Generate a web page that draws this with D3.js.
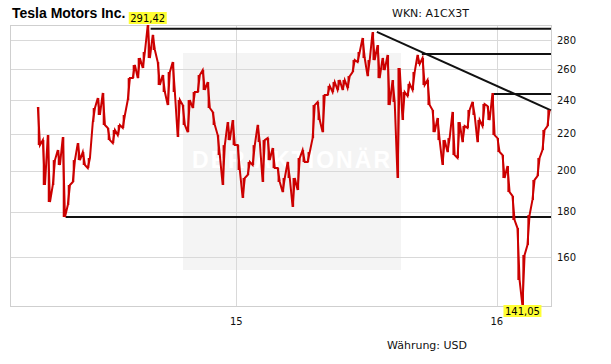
<!DOCTYPE html>
<html>
<head>
<meta charset="utf-8">
<script src="https://cdn.jsdelivr.net/npm/d3@7"></script>
<style>
  body { margin: 0; background: #fff; }
  svg { display: block; }
</style>
</head>
<body>
<svg id="chart"></svg>
<script>
// Tesla Motors Inc. - weekly high/low, log price axis, with drawn support/resistance lines

const width = 611, height = 364;
const plot = { left: 10, right: 551, top: 25, bottom: 306 };

const firstWeek = "2014-03-28";
const highs = [
  235.8, 216.5, 219.3, 205.6, 211.0, 218.2, 192.8, 205.6, 214.8, 209.9,
  206.7, 235.2, 241.3, 244.5, 223.4, 222.2, 225.1, 231.0, 254.1, 262.8,
  267.6, 271.8, 291.42, 284.0, 264.8, 256.1, 258.1, 264.8, 240.1, 237.0,
  240.1, 245.1, 256.1, 259.4, 251.5, 232.8, 219.3, 213.7, 226.8, 228.0,
  213.7, 196.3, 204.6, 213.7, 225.1, 216.5, 217.6, 212.1, 201.4, 196.3,
  204.6, 196.3, 206.7, 211.0, 209.9, 237.0, 238.9, 243.2, 249.0, 251.5,
  252.8, 252.8, 255.4, 266.2, 271.8, 281.8, 266.2, 286.2, 276.7, 267.6,
  269.7, 252.8, 260.8, 245.1, 250.3, 258.1, 269.7, 267.6, 252.8, 234.0,
  229.2, 216.5, 217.6, 232.8, 226.8, 224.5, 234.0, 238.9, 228.0, 237.6,
  236.4, 244.5, 217.6, 208.3, 202.5, 187.4, 172.5, 160.9, 178.4, 195.3,
  206.7, 222.2, 234.0
];
const lows = [
  213.7, 192.8, 184.5, 192.8, 203.0, 177.5, 183.1, 194.3, 205.6, 203.0,
  201.4, 226.8, 231.0, 225.1, 216.5, 214.8, 219.3, 223.4, 240.1, 254.1,
  254.1, 260.8, 267.6, 273.2, 249.6, 245.1, 237.0, 245.1, 218.2, 225.1,
  221.0, 235.2, 245.1, 246.4, 235.2, 225.1, 208.3, 192.8, 216.5, 213.7,
  200.4, 186.5, 197.8, 203.0, 215.4, 194.3, 205.6, 201.4, 194.3, 189.3,
  196.3, 182.2, 190.3, 204.6, 204.6, 217.6, 228.0, 221.0, 243.2, 245.1,
  246.4, 246.4, 247.7, 258.1, 264.8, 267.6, 255.4, 266.2, 254.1, 259.4,
  237.0, 238.9, 196.3, 228.0, 242.6, 246.4, 263.5, 249.6, 237.0, 221.0,
  216.5, 203.0, 209.9, 208.3, 206.7, 215.4, 223.4, 231.0, 215.4, 224.5,
  228.0, 219.3, 209.9, 196.3, 189.3, 176.1, 150.8, 141.05, 165.1, 185.5,
  197.3, 211.0, 224.5
];

// horizontal lines drawn on the chart (start date, level), all run to the right edge
const levelStarts = ["2014-09-03", "2015-09-18", "2015-12-28", "2014-05-07"];
const levelValues = [288.7, 270.4, 243.8, 177.5];
// falling trend line
const trendDates = ["2015-07-17", "2016-03-17"];
const trendValues = [286.3, 233.8];

const yTicks = [160, 180, 200, 220, 240, 260, 280];
const xTickDates = ["2015-01-01", "2016-01-01"];
const xTickLabels = ["15", "16"];

const parse = d3.timeParse("%Y-%m-%d");
const fmt = d3.format(".2f");
const deNum = v => fmt(v).replace(".", ",");

const svg = d3.select("#chart").attr("width", width).attr("height", height);
svg.append("rect").attr("width", width).attr("height", height).attr("fill", "#fff");

const x = d3.scaleTime()
  .domain([parse("2014-02-18"), parse("2016-03-17")])
  .range([plot.left, plot.right]);
const y = d3.scaleLog()
  .domain([141.05, 291.42])
  .range([plot.bottom, plot.top]);

// watermark
svg.append("rect")
  .attr("x", 183).attr("y", 53).attr("width", 218).attr("height", 217)
  .attr("fill", "#f4f4f4");
svg.append("text")
  .attr("x", 192).attr("y", 168)
  .attr("textLength", 198).attr("lengthAdjust", "spacing")
  .attr("font-family", "Liberation Sans, Arial, sans-serif")
  .attr("font-weight", "bold").attr("font-size", 23)
  .attr("fill", "#fff")
  .text("DER AKTIONÄR");

// grid
const grid = svg.append("g").attr("stroke", "#d9d9d9").attr("stroke-width", 1);
grid.selectAll("line.h").data(yTicks).enter().append("line")
  .attr("class", "h")
  .attr("x1", plot.left).attr("x2", plot.right)
  .attr("y1", d => Math.round(y(d)) + 0.5).attr("y2", d => Math.round(y(d)) + 0.5);
grid.selectAll("line.v").data(xTickDates).enter().append("line")
  .attr("class", "v")
  .attr("x1", d => Math.round(x(parse(d))) + 0.5).attr("x2", d => Math.round(x(parse(d))) + 0.5)
  .attr("y1", plot.top).attr("y2", plot.bottom);

svg.append("rect")
  .attr("x", plot.left + 0.5).attr("y", plot.top + 0.5)
  .attr("width", plot.right - plot.left).attr("height", plot.bottom - plot.top)
  .attr("fill", "none").attr("stroke", "#cfcfcf");

// axis labels
const axisFont = "DejaVu Sans, Verdana, sans-serif";
svg.append("g").selectAll("text").data(yTicks).enter().append("text")
  .attr("x", 557).attr("y", d => y(d)).attr("dy", "0.36em")
  .attr("font-family", axisFont).attr("font-size", 10).attr("fill", "#111")
  .text(d => d);
svg.append("g").selectAll("text").data(xTickDates).enter().append("text")
  .attr("x", d => x(parse(d))).attr("y", 325)
  .attr("text-anchor", "middle")
  .attr("font-family", axisFont).attr("font-size", 10).attr("fill", "#111")
  .text((d, i) => xTickLabels[i]);

// support / resistance lines
const endDate = x.domain()[1];
svg.append("g").selectAll("line").data(levelStarts).enter().append("line")
  .attr("x1", d => x(parse(d))).attr("x2", x(endDate))
  .attr("y1", (d, i) => y(levelValues[i])).attr("y2", (d, i) => y(levelValues[i]))
  .attr("stroke", "#111").attr("stroke-width", 2);
svg.append("line")
  .attr("x1", x(parse(trendDates[0]))).attr("y1", y(trendValues[0]))
  .attr("x2", x(parse(trendDates[1]))).attr("y2", y(trendValues[1]))
  .attr("stroke", "#111").attr("stroke-width", 2);

// price path: each week goes low->high when rising, high->low when falling
const start = parse(firstWeek);
const weeks = highs.map((h, i) => d3.timeDay.offset(start, 7 * i));
const mids = highs.map((h, i) => (h + lows[i]) / 2);
const points = [];
weeks.forEach((wk, i) => {
  const rising = i === highs.length - 1 || mids[i + 1] >= mids[i];
  const a = rising ? lows[i] : highs[i], b = rising ? highs[i] : lows[i];
  points.push({ date: d3.timeDay.offset(wk, 1), value: a });
  points.push({ date: d3.timeDay.offset(wk, 4), value: b });
});

const red = "#cc0000";
// weekly high-low range bars
svg.append("g").selectAll("line").data(weeks).enter().append("line")
  .attr("x1", d => x(d3.timeDay.offset(d, 2.5))).attr("x2", d => x(d3.timeDay.offset(d, 2.5)))
  .attr("y1", (d, i) => y(highs[i])).attr("y2", (d, i) => y(lows[i]))
  .attr("stroke", red).attr("stroke-width", 1.6);

const line = d3.line().x(d => x(d.date)).y(d => y(d.value));
svg.append("path")
  .datum(points)
  .attr("fill", "none")
  .attr("stroke", red)
  .attr("stroke-width", 2)
  .attr("d", line);

// max / min markers
const maxPt = points.reduce((a, b) => (b.value > a.value ? b : a));
const minPt = points.reduce((a, b) => (b.value < a.value ? b : a));
[[maxPt, -13], [minPt, -1]].forEach(([p, off]) => {
  const cx = x(p.date), cy = y(p.value) + off;
  svg.append("rect")
    .attr("x", cx - 19).attr("y", cy).attr("width", 38).attr("height", 12)
    .attr("fill", "#ffff33");
  svg.append("text")
    .attr("x", cx).attr("y", cy + 10)
    .attr("text-anchor", "middle")
    .attr("font-family", axisFont).attr("font-size", 10).attr("fill", "#000")
    .text(deNum(p.value));
});

// titles
svg.append("text")
  .attr("x", 12).attr("y", 17.5)
  .attr("font-family", "Liberation Sans, Arial, sans-serif")
  .attr("font-weight", "bold").attr("font-size", 14).attr("fill", "#000")
  .text("Tesla Motors Inc.");
svg.append("text")
  .attr("x", 392).attr("y", 17)
  .attr("font-family", axisFont).attr("font-size", 11).attr("fill", "#111")
  .text("WKN: A1CX3T");
svg.append("text")
  .attr("x", 387).attr("y", 349)
  .attr("font-family", axisFont).attr("font-size", 11).attr("fill", "#111")
  .text("Währung: USD");
</script>
</body>
</html>
